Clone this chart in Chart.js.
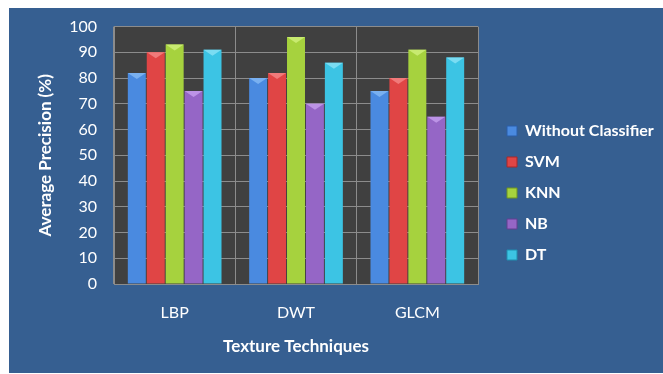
<!DOCTYPE html>
<html><head><meta charset="utf-8">
<style>html,body{margin:0;padding:0;background:#fff;}#wrap{width:663px;height:374px;}</style>
<script src="https://cdn.jsdelivr.net/npm/chart.js@4/dist/chart.umd.min.js"></script>
</head><body><div id="wrap"><canvas id="c" width="663" height="374"></canvas></div>
<script>
const categories = ['LBP', 'DWT', 'GLCM'];
const seriesNames = ['Without Classifier', 'SVM', 'KNN', 'NB', 'DT'];
const withoutClassifier = [82, 80, 75];
const svm = [90, 82, 80];
const knn = [93, 96, 91];
const nb = [75, 70, 65];
const dt = [91, 86, 88];
const yTicks = [0, 10, 20, 30, 40, 50, 60, 70, 80, 90, 100];

const palette = [
  {mid:'#4a8ae0', edge:'#2a5ea8', cap:'#79b0f0'},
  {mid:'#e04545', edge:'#a82828', cap:'#f07a7a'},
  {mid:'#a6d23e', edge:'#6f9420', cap:'#c8ea70'},
  {mid:'#9566c6', edge:'#633e90', cap:'#bc93e6'},
  {mid:'#3cc4e4', edge:'#1f8fb0', cap:'#7adcf2'}
];
const values = [withoutClassifier, svm, knn, nb, dt];

function grad(ctx, i){
  const el = ctx.element;
  const chart = ctx.chart;
  if (!el || !chart.chartArea) return palette[i].mid;
  const w = el.width, x = el.x;
  if (!Number.isFinite(w) || !Number.isFinite(x) || w <= 0) return palette[i].mid;
  const g = chart.ctx.createLinearGradient(x - w/2, 0, x + w/2, 0);
  g.addColorStop(0, palette[i].edge);
  g.addColorStop(0.45, palette[i].mid);
  g.addColorStop(0.6, palette[i].mid);
  g.addColorStop(1, palette[i].edge);
  return g;
}

const bgPlugin = {
  id: 'bg',
  beforeDraw(chart){
    const c = chart.ctx, a = chart.chartArea;
    c.save();
    c.fillStyle = '#ffffff';
    c.fillRect(0,0,chart.width,chart.height);
    c.fillStyle = '#365f91';
    c.fillRect(9,8,chart.width-9,chart.height-9);
    c.fillStyle = '#404040';
    c.fillRect(a.left,a.top,a.right-a.left,a.bottom-a.top);
    c.restore();
  },
  afterDatasetsDraw(chart){
    const c = chart.ctx;
    c.save();
    chart.data.datasets.forEach((ds, i) => {
      chart.getDatasetMeta(i).data.forEach(bar => {
        const w = bar.width, l = bar.x - w/2, r = bar.x + w/2, t = bar.y;
        c.fillStyle = palette[i].cap;
        c.beginPath();
        c.moveTo(l, t); c.lineTo(r, t); c.lineTo(bar.x, t + 6); c.closePath();
        c.fill();
      });
    });
    c.restore();
  }
};

new Chart(document.getElementById('c'), {
  type: 'bar',
  data: {
    labels: categories,
    datasets: seriesNames.map((n, i) => ({
      label: n,
      data: values[i],
      backgroundColor: (ctx) => grad(ctx, i),
      borderWidth: 0,
      barPercentage: 0.95,
      categoryPercentage: 0.78
    }))
  },
  options: {
    responsive: false,
    animation: false,
    devicePixelRatio: 1,
    layout: {padding: {left: 20, top: 26, right: 0, bottom: 14}},
    plugins: {
      tooltip: {enabled: false},
      legend: {
        position: 'right',
        maxWidth: 171,
        labels: {
          color: '#ffffff',
          font: {family: 'Lato', size: 16, weight: 'bold'},
          boxWidth: 10, boxHeight: 10, padding: 15,
          generateLabels(chart){
            return chart.data.datasets.map((ds, i) => ({
              text: ds.label, fillStyle: palette[i].mid, strokeStyle: palette[i].edge,
              lineWidth: 1, datasetIndex: i, fontColor: '#ffffff'
            }));
          }
        }
      }
    },
    scales: {
      x: {
        grid: {display: true, offset: true, color: '#8c8c8c', drawTicks: false},
        border: {color: '#8c8c8c'},
        ticks: {color: '#ffffff', font: {family: 'Lato', size: 16}, padding: 19},
        title: {display: true, text: 'Texture Techniques', color: '#ffffff',
                font: {family: 'Lato', size: 17, weight: 'bold'}, padding: {top: 0, bottom: 3}},
        afterFit(s){ s.height = 76; }
      },
      y: {
        min: 0, max: 100,
        afterBuildTicks(s){ s.ticks = yTicks.map(v => ({value: v})); },
        grid: {color: '#8c8c8c', drawTicks: false},
        border: {color: '#8c8c8c'},
        ticks: {color: '#ffffff', font: {family: 'Lato', size: 16}, padding: 17},
        title: {display: true, text: 'Average Precision (%)', color: '#ffffff',
                font: {family: 'Lato', size: 17, weight: 'bold'}, padding: {top: 15, bottom: 0}},
        afterFit(s){ s.width = 94; }
      },
      yr: {
        position: 'right', display: true,
        grid: {display: false}, border: {display: false}, ticks: {display: false},
        afterFit(s){ s.width = 14; }
      }
    }
  },
  plugins: [bgPlugin]
});
</script></body></html>
